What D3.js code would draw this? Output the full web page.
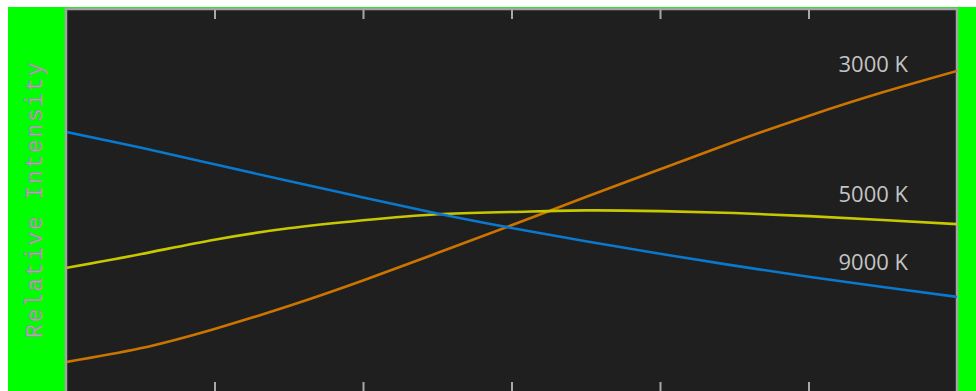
<!DOCTYPE html>
<html>
<head>
<meta charset="utf-8">
<script src="https://cdn.jsdelivr.net/npm/d3@7"></script>
<style>
  html, body { margin: 0; padding: 0; background: #ffffff; overflow: hidden; }
  svg { display: block; }
</style>
</head>
<body>
<svg id="chart" width="976" height="391"></svg>
<script>
// ---- data ----
const wavelengths = [400, 425, 450, 475, 500, 525, 550, 575, 600, 625, 650, 675, 700];
const series3000K = [7.6, 11.2, 16.3, 22.3, 29.0, 36.2, 43.5, 50.9, 58.2, 65.4, 72.2, 78.4, 84.0];
const series5000K = [32.3, 35.9, 39.7, 42.7, 44.8, 46.4, 47.0, 47.4, 47.2, 46.7, 45.9, 44.9, 43.8];
const series9000K = [68.0, 63.9, 59.5, 55.1, 50.8, 46.6, 42.8, 39.3, 36.0, 32.9, 30.0, 27.3, 24.7];
const seriesNames = ["3000 K", "5000 K", "9000 K"];
const xTicks = [450, 500, 550, 600, 650];
const yLabel = "Relative Intensity";

// ---- layout ----
const W = 976, H = 391;
const plot = { left: 66, right: 957, top: 9, bottom: 393 };
const svg = d3.select("#chart");

svg.append("rect").attr("x", 0).attr("y", 0).attr("width", W).attr("height", H).attr("fill", "#ffffff");
svg.append("rect").attr("x", 8).attr("y", 7).attr("width", W - 8).attr("height", H - 7).attr("fill", "#00ff00");

svg.append("rect")
  .attr("x", plot.left).attr("y", plot.top)
  .attr("width", plot.right - plot.left).attr("height", plot.bottom - plot.top)
  .attr("fill", "#1f1f1f").attr("stroke", "#a3a3a3").attr("stroke-width", 2.5);

const x = d3.scaleLinear().domain([400, 700]).range([plot.left, plot.right]);
const y = d3.scaleLinear().domain([0, 100]).range([391, 10]);

const topAxis = d3.axisBottom(x).tickValues(xTicks).tickSize(9).tickFormat("");
const gTop = svg.append("g").attr("transform", `translate(0,${plot.top + 1})`).call(topAxis);
const botAxis = d3.axisTop(x).tickValues(xTicks).tickSize(9).tickFormat("");
const gBot = svg.append("g").attr("transform", `translate(0,${H})`).call(botAxis);
[gTop, gBot].forEach(g => {
  g.select(".domain").remove();
  g.selectAll(".tick line").attr("stroke", "#a8a8a8").attr("stroke-width", 2);
});

const data = [
  { name: seriesNames[0], values: series3000K, color: "#cc7400" },
  { name: seriesNames[1], values: series5000K, color: "#c8c800" },
  { name: seriesNames[2], values: series9000K, color: "#0a78cc" }
];

const line = d3.line()
  .x((d, i) => x(wavelengths[i]))
  .y(d => y(d))
  .curve(d3.curveNatural);

svg.append("clipPath").attr("id", "clip")
  .append("rect").attr("x", plot.left + 1).attr("y", plot.top + 1)
  .attr("width", plot.right - plot.left - 1).attr("height", plot.bottom - plot.top - 2);

const gLines = svg.append("g").attr("clip-path", "url(#clip)");
data.forEach(s => {
  gLines.append("path")
    .attr("d", line(s.values))
    .attr("fill", "none")
    .attr("stroke", s.color)
    .attr("stroke-width", 2.6);
});

const labelX = plot.right - 49;
const labelBaselines = [72, 202, 270];
data.forEach((s, i) => {
  svg.append("text")
    .attr("x", labelX)
    .attr("y", labelBaselines[i])
    .attr("text-anchor", "end")
    .attr("font-family", "'Open Sans', 'Noto Sans', sans-serif")
    .attr("font-size", 22)
    .attr("fill", "#c4c4c4")
    .text(s.name);
});

svg.append("text")
  .attr("transform", `translate(42,338) rotate(-90)`)
  .attr("font-family", "'Liberation Mono', 'DejaVu Sans Mono', monospace")
  .attr("font-size", 23)
  .attr("letter-spacing", "1.6px")
  .attr("fill", "#a9a9a9")
  .attr("stroke", "#8f8f8f")
  .attr("stroke-width", 0.5)
  .text(yLabel);
</script>
</body>
</html>
